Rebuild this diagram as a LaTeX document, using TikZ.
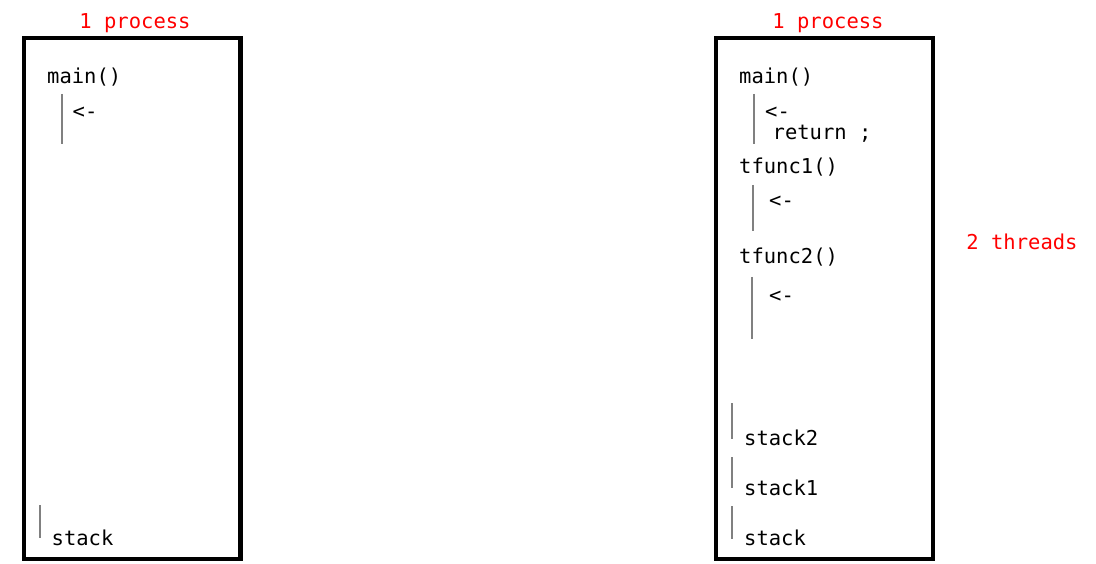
\documentclass[tikz,border=0pt]{standalone}
\usepackage{fontspec}
\setmonofont{DejaVu Sans Mono}
\usepackage{tikz}
\usetikzlibrary{positioning}

\tikzset{
  code/.style={anchor=west, inner sep=0pt, font=\ttfamily\fontsize{20.5}{24}\selectfont},
  note/.style={code, anchor=center, text=red},
  frame/.style={line width=4.5pt},
  bar/.style={gray, line width=1.2pt}
}

\begin{document}
\begin{tikzpicture}[x=1pt,y=-1pt]
        %\draw [step=50pt] (0,0) grid (1096,564);
        \useasboundingbox (0,0) rectangle (1096,564);

        % one process, one thread
        \draw[frame] (24,38) rectangle (240.5,559);
        \node[note] (proc1) at (135,23) {1 process};
        \node[code] (main1) at (47,77) {main()};
        \draw[bar] (62,94) -- (62,144);
        \node[code] (cur1) at (72.5,113) {<-};
        \draw[bar] (40,505) -- (40,538);
        \node[code] (stk1) at (51.5,538) {stack};

        % one process, two threads
        \draw[frame] (716,38) rectangle (933,559);
        \node[note] (proc2) at (828,23) {1 process};
        \node[note] (thr) at (1022,242) {2 threads};
        \node[code] (main2) at (739,77) {main()};
        \draw[bar] (754,94) -- (754,144);
        \node[code] (cur2) at (765,113) {<-};
        \node[code] (ret) at (772.5,134) {return ;};
        \node[code] (tf1) at (739,167) {tfunc1()};
        \draw[bar] (753,185) -- (753,231);
        \node[code] (cur3) at (769,202) {<-};
        \node[code] (tf2) at (739,257) {tfunc2()};
        \draw[bar] (752,277) -- (752,339);
        \node[code] (cur4) at (769,297) {<-};
        \draw[bar] (732,403) -- (732,439);
        \node[code] (stk2) at (744,438) {stack2};
        \draw[bar] (732,457) -- (732,488);
        \node[code] (stk3) at (744,488) {stack1};
        \draw[bar] (732,506) -- (732,539);
        \node[code] (stk4) at (744,538) {stack};
    \end{tikzpicture}
\end{document}
